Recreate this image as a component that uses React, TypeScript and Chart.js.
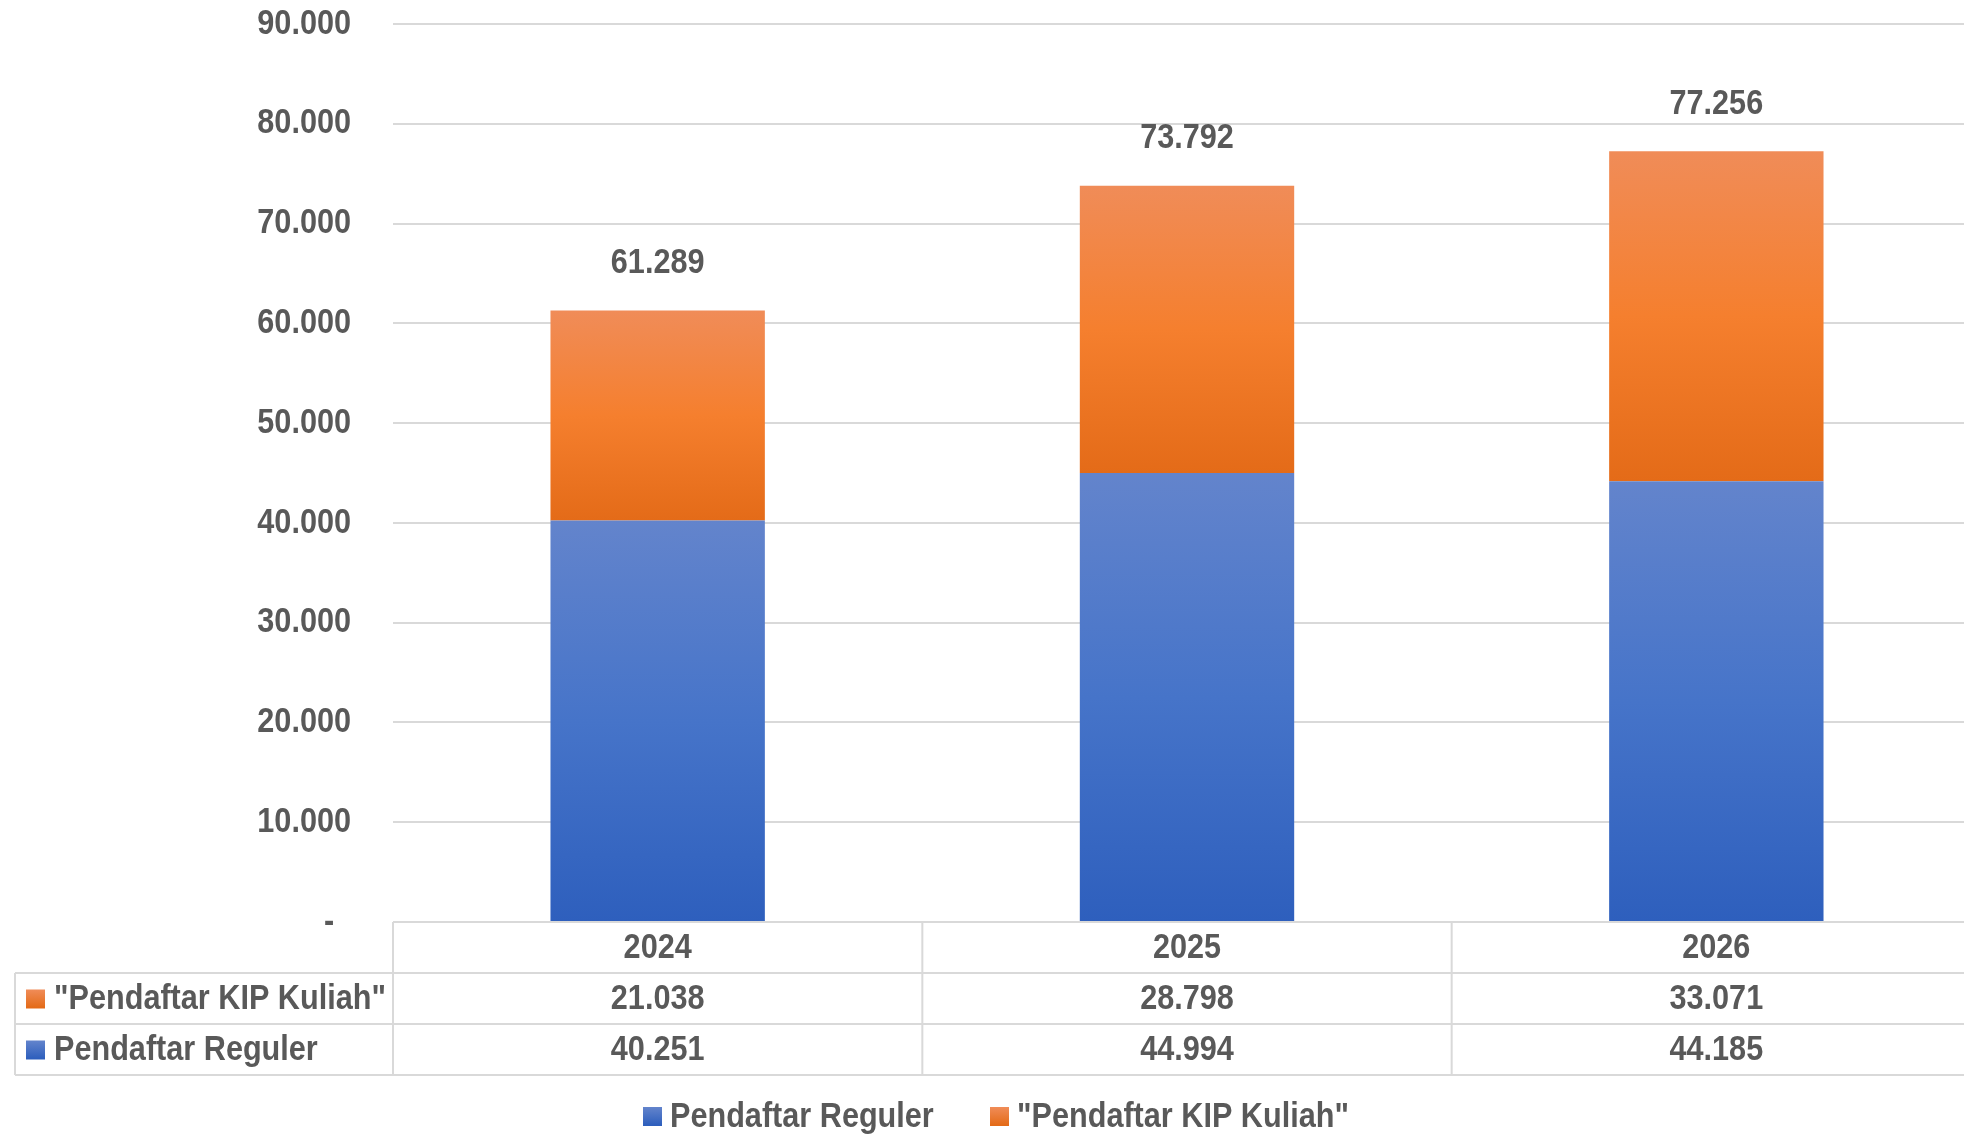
import React, { useEffect, useRef } from 'react';
import { Chart, registerables } from 'chart.js';

Chart.register(...registerables);

const years = ['2024', '2025', '2026'];
const reguler = [40251, 44994, 44185];
const kip = [21038, 28798, 33071];
const totals = [61289, 73792, 77256];
const seriesNames = ['Pendaftar Reguler', '"Pendaftar KIP Kuliah"'];

const FONT = '"Liberation Sans", Arial, sans-serif';
const TEXT = '#595959';
const GRID = '#d9d9d9';
const NARROW = 0.875; // squeeze Liberation Sans to look like Arial Narrow

const fmt = (v: number) => v.toLocaleString('de-DE');

// condensed text
const say = (c: CanvasRenderingContext2D, s: string, x: number, y: number, align: CanvasTextAlign) => {
  c.save();
  c.translate(x, y);
  c.scale(NARROW, 1);
  c.textAlign = align;
  c.fillText(s, 0, 0);
  c.restore();
};

const App: React.FC = () => {
  const canvasRef = useRef<HTMLCanvasElement>(null);
  const chartRef = useRef<Chart | null>(null);

  useEffect(() => {
    const ctx = canvasRef.current?.getContext('2d');
    if (!ctx) return;

    // vertical gradient for each bar segment, between its base and top
    const grad = (stops: string[], lowIdx: number) => (c: any) => {
      const chart = c.chart;
      const y = chart.scales.y;
      if (!chart.chartArea || !y || c.dataIndex === undefined) return stops[stops.length - 1];
      const i = c.dataIndex;
      const base = lowIdx === 0 ? 0 : reguler[i];
      const top = lowIdx === 0 ? reguler[i] : reguler[i] + kip[i];
      const g = chart.ctx.createLinearGradient(0, y.getPixelForValue(top), 0, y.getPixelForValue(base));
      stops.forEach((s, k) => g.addColorStop(k / (stops.length - 1), s));
      return g;
    };

    const swatch = (c: CanvasRenderingContext2D, x: number, cy: number, cols: string[]) => {
      const g = c.createLinearGradient(0, cy - 9, 0, cy + 9);
      g.addColorStop(0, cols[0]);
      g.addColorStop(1, cols[1]);
      c.fillStyle = g;
      c.fillRect(x, cy - 9, 19, 19);
      c.fillStyle = TEXT;
    };

    const tablePlugin = {
      id: 'dataTable',
      afterDraw(chart: any) {
        const c = chart.ctx;
        const area = chart.chartArea;
        const x = chart.scales.x;
        const y = chart.scales.y;
        const rowH = 51;
        const top = area.bottom;
        const left = 15;
        const colW = (area.right - area.left) / years.length;
        c.save();
        c.strokeStyle = GRID;
        c.lineWidth = 2;
        c.beginPath();
        c.moveTo(area.left, top);
        c.lineTo(area.right, top);
        for (let r = 1; r <= 3; r++) {
          c.moveTo(left, top + rowH * r);
          c.lineTo(area.right, top + rowH * r);
        }
        c.moveTo(left, top + rowH);
        c.lineTo(left, top + rowH * 3);
        for (let k = 0; k < years.length; k++) {
          const xx = area.left + colW * k;
          c.moveTo(xx, top);
          c.lineTo(xx, top + rowH * 3);
        }
        c.stroke();

        c.fillStyle = TEXT;
        c.font = `bold 35px ${FONT}`;
        c.textBaseline = 'middle';

        // y tick labels
        y.ticks.forEach((t: any, i: number) => {
          const py = y.getPixelForTick(i);
          if (t.value === 0) say(c, '-', 329, py, 'center');
          else say(c, fmt(t.value), 351, py, 'right');
        });

        years.forEach((yr, i) => {
          const cx = x.getPixelForValue(i);
          say(c, yr, cx, top + rowH * 0.5 + 1, 'center');
          say(c, fmt(kip[i]), cx, top + rowH * 1.5 + 1, 'center');
          say(c, fmt(reguler[i]), cx, top + rowH * 2.5 + 1, 'center');
        });

        // row headers
        swatch(c, 26, top + rowH * 1.5, ['#f08c58', '#e46b18']);
        say(c, seriesNames[1], 54, top + rowH * 1.5 + 1, 'left');
        swatch(c, 26, top + rowH * 2.5, ['#6384cc', '#2e5fbd']);
        say(c, seriesNames[0], 54, top + rowH * 2.5 + 1, 'left');

        // legend
        const ly = 1116;
        swatch(c, 643, ly, ['#6384cc', '#2e5fbd']);
        say(c, seriesNames[0], 670, ly + 1, 'left');
        swatch(c, 990, ly, ['#f08c58', '#e46b18']);
        say(c, seriesNames[1], 1017, ly + 1, 'left');

        // totals above bars
        totals.forEach((t, i) => {
          say(c, fmt(t), x.getPixelForValue(i), y.getPixelForValue(t) - 47, 'center');
        });
        c.restore();
      },
    };

    chartRef.current = new Chart(ctx, {
      type: 'bar',
      data: {
        labels: years,
        datasets: [
          {
            label: seriesNames[0],
            data: reguler,
            backgroundColor: grad(['#6384cc', '#4674c9', '#2e5fbd'], 0),
            borderWidth: 0,
          },
          {
            label: seriesNames[1],
            data: kip,
            backgroundColor: grad(['#f08c58', '#f57f2e', '#e46b18'], 1),
            borderWidth: 0,
          },
        ],
      },
      options: {
        responsive: false,
        animation: false,
        devicePixelRatio: 1,
        layout: { padding: { top: 24, bottom: 214, left: 0, right: 0 } },
        datasets: { bar: { barPercentage: 0.405, categoryPercentage: 1 } },
        plugins: {
          legend: { display: false },
          tooltip: { enabled: false },
        },
        scales: {
          x: {
            stacked: true,
            display: false,
          },
          y: {
            stacked: true,
            min: 0,
            max: 90000,
            afterFit: (s: any) => {
              s.width = 393;
            },
            border: { display: false },
            grid: { color: GRID, lineWidth: 2, drawTicks: false },
            ticks: { stepSize: 10000, display: false },
          },
        },
      },
      plugins: [tablePlugin],
    });

    return () => {
      chartRef.current?.destroy();
      chartRef.current = null;
    };
  }, []);

  // the plot runs a little past the right edge of the picture
  return (
    <div style={{ position: 'fixed', left: 0, top: 0, width: 1964, height: 1136, overflow: 'hidden', background: '#fff' }}>
      <canvas ref={canvasRef} width={1981} height={1136} />
    </div>
  );
};

export default App;
